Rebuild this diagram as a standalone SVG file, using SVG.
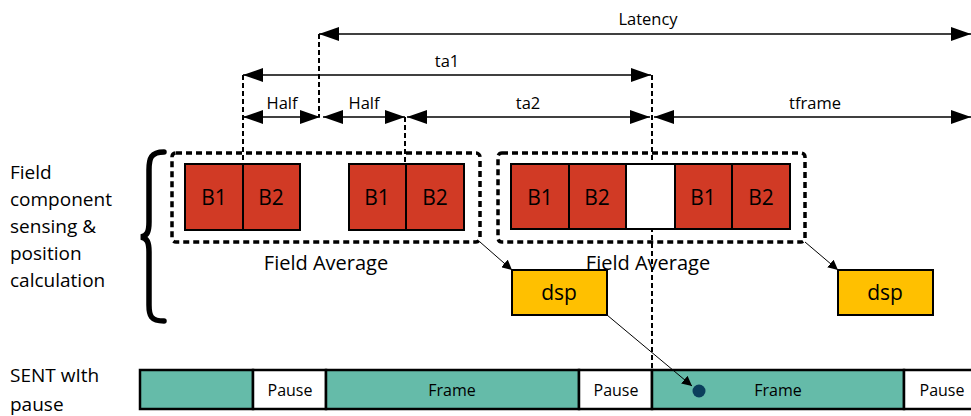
<svg xmlns="http://www.w3.org/2000/svg" width="971" height="416" viewBox="0 0 971 416">
<defs>
<marker id="ah" viewBox="0 0 20 14" refX="20" refY="7" markerWidth="20" markerHeight="14" markerUnits="userSpaceOnUse" orient="auto-start-reverse">
<path d="M0,0 L20,7 L0,14 Z" fill="#000"/>
</marker>
<marker id="sa" viewBox="0 0 10 10" refX="10" refY="5" markerWidth="10" markerHeight="10" markerUnits="userSpaceOnUse" orient="auto">
<path d="M0,0 L10,5 L0,10 Z" fill="#000"/>
</marker>
<style>
text{font-family:"Open Sans","Liberation Sans",sans-serif;fill:#000}
.dim{stroke:#000;stroke-width:1.5;fill:none;marker-start:url(#ah);marker-end:url(#ah)}
.vd{stroke:#000;stroke-width:2;stroke-dasharray:5,3;fill:none}
.grp{fill:none;stroke:#000;stroke-width:3.5;stroke-dasharray:6,4}
.red{fill:#D13A25;stroke:#000;stroke-width:2}
.wht{fill:#fff;stroke:#000;stroke-width:2}
.dsp{fill:#FFC000;stroke:#000;stroke-width:2}
.teal{fill:#65BBA9;stroke:#000;stroke-width:2.5}
.pz{fill:#fff;stroke:#000;stroke-width:2.5}
.b{font-size:21px;text-anchor:middle}
.fa{font-size:20px;text-anchor:middle}
.l{font-size:16.5px;text-anchor:middle}
.s{font-size:16px;text-anchor:middle}
.side{font-size:19px}
.conn{stroke:#000;stroke-width:1;fill:none;marker-end:url(#sa)}
</style>
</defs>

<g id="guides">
<line class="vd" x1="319" y1="34" x2="319" y2="117"/>
<line class="vd" x1="243" y1="75" x2="243" y2="164"/>
<line class="vd" x1="405" y1="117" x2="405" y2="164"/>
<line class="vd" x1="652" y1="75" x2="652" y2="371"/>
</g>

<g id="dimensions">
<line class="dim" x1="319" y1="34" x2="971" y2="34"/>
<line class="dim" x1="243" y1="75" x2="651" y2="75"/>
<line class="dim" x1="243" y1="117" x2="320" y2="117"/>
<line class="dim" x1="323" y1="117" x2="405" y2="117"/>
<line class="dim" x1="407" y1="117" x2="650" y2="117"/>
<line class="dim" x1="654" y1="117" x2="971" y2="117"/>
<text class="l" x="648" y="25">Latency</text>
<text class="l" x="447" y="67">ta1</text>
<text class="l" x="282" y="109">Half</text>
<text class="l" x="364" y="109">Half</text>
<text class="l" x="528" y="109">ta2</text>
<text class="l" x="815" y="109">tframe</text>
</g>

<g id="side-labels">
<text class="side" x="10" y="179">Field</text>
<text class="side" x="10" y="206">component</text>
<text class="side" x="10" y="233">sensing &amp;</text>
<text class="side" x="10" y="260">position</text>
<text class="side" x="10" y="287">calculation</text>
<path d="M164,152 C151,152 149,158 149,170 L149,222 C149,232 147,236 141,237 C147,238 149,242 149,252 L149,305 C149,316 151,321 164,321" fill="none" stroke="#000" stroke-width="5.5" stroke-linecap="round"/>
<text class="side" x="10" y="382">SENT wIth</text>
<text class="side" x="10" y="411">pause</text>
</g>

<g id="group1">
<rect class="grp" x="172" y="153" width="308" height="89" rx="4"/>
<rect class="red" x="185" y="164" width="58" height="66"/>
<rect class="red" x="243" y="164" width="57" height="66"/>
<rect class="red" x="349" y="164" width="57" height="66"/>
<rect class="red" x="406" y="164" width="58" height="66"/>
<text class="b" x="214" y="205">B1</text>
<text class="b" x="271" y="205">B2</text>
<text class="b" x="377" y="205">B1</text>
<text class="b" x="435" y="205">B2</text>
<text class="fa" x="326" y="270">Field Average</text>
</g>

<g id="group2">
<rect class="grp" x="498" y="153" width="307" height="89" rx="4"/>
<rect class="red" x="511" y="164" width="58" height="65"/>
<rect class="red" x="569" y="164" width="57" height="65"/>
<rect class="wht" x="626" y="164" width="49" height="65"/>
<rect class="red" x="675" y="164" width="57" height="65"/>
<rect class="red" x="732" y="164" width="58" height="65"/>
<text class="b" x="540" y="205">B1</text>
<text class="b" x="597" y="205">B2</text>
<text class="b" x="703" y="205">B1</text>
<text class="b" x="761" y="205">B2</text>
<text class="fa" x="648" y="270">Field Average</text>
</g>

<g id="dsp1">
<rect class="dsp" x="512" y="270" width="95" height="45"/>
<text class="b" x="559" y="300">dsp</text>
</g>
<g id="dsp2">
<rect class="dsp" x="838" y="270" width="95" height="45"/>
<text class="b" x="885" y="300">dsp</text>
</g>

<g id="sent">
<rect class="teal" x="140" y="370" width="113" height="39"/>
<rect class="pz" x="253" y="370" width="73" height="39"/>
<rect class="teal" x="326" y="370" width="253" height="39"/>
<rect class="pz" x="579" y="370" width="73" height="39"/>
<rect class="teal" x="652" y="370" width="252" height="39"/>
<rect class="pz" x="904" y="370" width="70" height="39"/>
<text class="s" x="290" y="396">Pause</text>
<text class="s" x="452" y="396">Frame</text>
<text class="s" x="616" y="396">Pause</text>
<text class="s" x="778" y="396">Frame</text>
<text class="s" x="942" y="396">Pause</text>
<circle cx="699" cy="391" r="6.5" fill="#0B3F5C"/>
</g>

<g id="connectors">
<line class="conn" x1="480" y1="242" x2="512" y2="270"/>
<line class="conn" x1="805" y1="242" x2="838" y2="270"/>
<line class="conn" x1="607" y1="315" x2="692" y2="386"/>
</g>
</svg>
